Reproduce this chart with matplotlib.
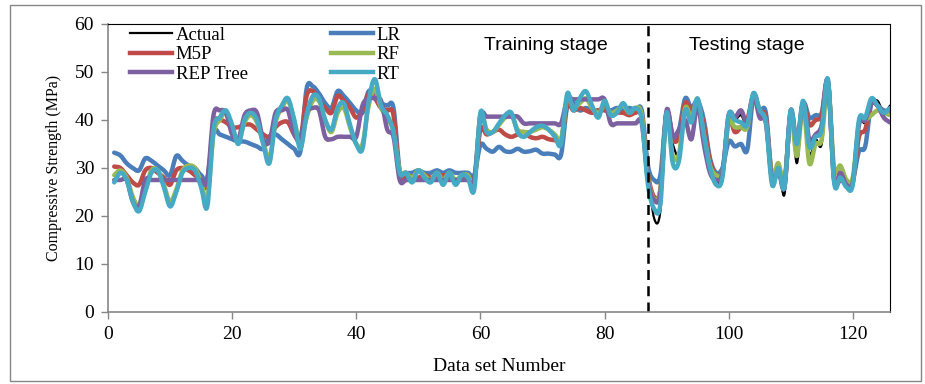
import numpy as np
import matplotlib
matplotlib.use("Agg")
import matplotlib.pyplot as plt
from matplotlib.path import Path
from matplotlib.patches import PathPatch, Rectangle
from matplotlib.lines import Line2D

# values, data set 1..126 (train 1-86, test 87-126)
actual = [27, 29, 27.5, 23.5, 21.5, 25, 29, 29.5, 26, 22, 25, 29, 30, 29.5, 26, 22.5,
          37.5, 40.5, 42, 39, 35, 40, 41.5, 40, 35, 31, 40, 43, 44.5, 40, 34.5, 41, 45, 44.5, 40,
          38, 42.5, 43.5, 39, 35, 34, 43.5, 48, 43, 41, 37,
          29, 29, 27, 29.5, 28, 27, 29, 26.5, 29, 26.5, 28.5, 28, 26,
          41.5, 37.5, 37.5, 39.3, 41, 41.5, 37.5, 36.5, 37.5, 38.5, 38.8, 38, 36.5, 35,
          45.5, 42, 44.5, 46, 43, 40.5, 44, 41, 41.5, 43.5, 41.5, 42.5, 40,
          29, 19.5, 21, 40.5, 35, 33, 43, 41.5, 44.5, 38, 31, 28, 27.5, 40.5, 40, 41, 39, 45.5,
          41.5, 39.5, 27, 30.5, 24.5, 41.5, 31, 43.5, 33, 36, 35, 48, 28, 29, 27, 26.5, 39, 39.5,
          43.5, 44, 41.5, 43]

lr = [33.2, 32.6, 31, 30, 29.5, 32, 31.5, 30.5, 29.5, 28.5, 32.5, 31.5, 30.5, 30, 28.5, 28,
      37.5, 37, 36.5, 36, 35.5, 35.5, 35, 34.5, 34, 36.5, 37, 36, 35, 34, 33.5, 46.5, 47, 45.5,
      43.5, 42.5, 46, 45, 43.5, 42, 41.5, 46, 45, 43.5, 43, 42.5,
      29.5, 29, 29, 29.5, 29, 29, 29.5, 29, 29.5, 29, 29, 29, 28.5,
      34.8, 34, 33.4, 34.4, 33.5, 33.4, 34, 33.4, 33.5, 33.8, 33, 33, 32.8, 32.8,
      43, 43.5, 42, 42.5, 42, 42, 42.5, 42, 42.5, 42, 42.5, 42, 42,
      30.5, 27.5, 28.5, 41.5, 37, 38, 44.5, 42.5, 44, 40, 32, 29, 30, 35.5, 34.5, 35, 33.8, 45,
      42, 41.5, 28, 30, 27, 41.5, 35, 43.5, 40.5, 41, 41.5, 48, 27.5, 28.5, 27, 27.5, 33.5, 34.5,
      43.5, 43, 42, 42]

m5p = [30.3, 30, 28.5, 27, 26.5, 29.5, 30, 29, 28, 26.5, 29.5, 30, 29.5, 28.5, 27.5, 26.5,
       39, 40, 39.5, 38.5, 38.5, 39, 39, 38, 37, 36.5, 38.5, 39.5, 39.5, 37, 36, 45, 46, 44,
       42.5, 41.5, 45, 44, 42.5, 40.5, 42, 45.5, 44.5, 42.5, 42, 41,
       28.5, 28.5, 28, 28, 28.5, 28, 28, 28.5, 28, 27.5, 28, 28, 27.5,
       38, 37, 37.5, 38, 37, 36.5, 37, 37.5, 36.5, 36.2, 36.5, 36, 35.8, 35.8,
       43, 42, 42.5, 42, 41.5, 42, 42, 41.5, 41.5, 41.5, 41, 41.5, 41,
       28.8, 24, 25.5, 41.5, 36, 36.5, 43.5, 42, 43.5, 39, 31.5, 28.5, 29, 40, 37.5, 38.5, 40, 45,
       41.5, 40.5, 27.5, 30, 26.5, 41.5, 35, 43.5, 39, 40, 41, 48, 28, 27.5, 27, 27, 36.5, 38,
       43.5, 43, 41.5, 42]

rf = [28.5, 29.5, 28, 24, 22, 25.5, 29.5, 29.5, 26.5, 23, 25.5, 29.5, 30.5, 30, 27, 23.5,
      37, 40, 41.5, 38.5, 35.5, 39.5, 41, 39.5, 35.5, 32, 39.5, 42.5, 44, 40, 35, 40.5, 44, 44,
      40, 37.5, 41.5, 42.5, 38.5, 35, 35, 43, 46.5, 42.5, 40.5, 37.5,
      29.5, 29, 28, 29.5, 28.5, 27.5, 29, 27.5, 29, 27.5, 28.5, 28.5, 26.5,
      41, 38, 37.5, 39, 40.5, 41, 38, 37.5, 37.5, 38, 38.5, 38, 37, 36,
      44.5, 42.5, 43.5, 44.5, 42.5, 41.5, 43, 41.5, 42, 43, 41.5, 42.5, 41,
      28, 23.5, 25.5, 41, 32.5, 33, 42.5, 40.5, 44, 37, 30.5, 28.5, 29, 39.5, 38.5, 38.5, 38.5,
      45.5, 42, 39.5, 28.5, 31, 27, 41, 32.5, 43, 31, 35, 36, 47.5, 30, 30.5, 27.5, 28, 39.5, 40,
      41, 42, 41.5, 41]

rep_tree = [27.5, 27.5, 27.5, 23, 22, 27.5, 27.5, 27.5, 27.5, 27.5, 27.5, 27.5, 27.5, 27.5, 27.5, 27.5,
            41, 42, 41.5, 37, 36, 41, 42, 41.5, 36, 35.5, 41.5, 42, 42, 37, 36.5, 41.5, 42.5, 42,
            36.5, 36, 36.5, 36.5, 36.5, 36.5, 43, 44.5, 44.5, 44, 38, 36.5,
            27.5, 27.5, 27.5, 27.5, 27.5, 27.5, 27.5, 27.5, 27.5, 27.5, 27.5, 27.5, 27.5,
            40.7, 40.7, 40.7, 40.7, 40.7, 40.7, 40.7, 39.3, 39.3, 39.3, 39.3, 39.3, 39.3, 39.3,
            44.3, 44.3, 44.3, 44.3, 44.3, 44.3, 44.3, 39.3, 39.3, 39.3, 39.3, 39.3, 39.3,
            27.5, 23.3, 25, 42, 36.5, 38, 40, 36, 43, 35, 29, 27.5, 29, 41, 40.5, 42, 39.5, 45,
            40.5, 39.5, 27.5, 29.5, 26, 42, 35.5, 43.5, 36, 37, 39, 48, 27.5, 29, 26.5, 27, 39, 40,
            43.5, 43, 40.5, 39.5]

rt = [27, 29, 27.5, 23, 21, 25, 29, 29.5, 26, 22, 25, 29, 30, 29.5, 26, 22,
      38, 40.5, 42, 39, 35, 40, 41.5, 40, 35, 31, 40, 43, 44.5, 40, 34, 41, 45, 44.5, 40, 38,
      42.5, 43.5, 39, 35, 34, 44, 48.5, 43, 41, 37.5,
      29, 29, 27, 29.5, 28, 27, 29, 26.5, 29, 26.5, 28.5, 28, 25.5,
      41.5, 37.5, 37.5, 39.3, 41, 41.5, 37.5, 36.5, 37.5, 38.5, 38.8, 38, 36.5, 35,
      45.5, 42, 44.5, 46, 43, 40.5, 44, 41, 41.5, 43.5, 41.5, 42.5, 40,
      26.5, 21.5, 22.5, 41.5, 31, 31.5, 42, 39.5, 44.5, 37, 30, 26.5, 28, 41, 40, 39.5, 39,
      45.6, 42, 39.5, 26.5, 30, 26, 42, 35, 44, 34.5, 36.5, 38, 48.5, 27, 28, 26, 26.5, 40, 40.5,
      44.5, 43, 41.5, 42.5]

series_names = ["Actual", "LR", "M5P", "RF", "REP Tree", "RT"]
series_colors = ["#000000", "#4A7EBB", "#BE4B48", "#98B954", "#7D60A0", "#46AAC5"]
series_widths = [1.6, 3.2, 3.2, 3.2, 3.2, 3.2]
split_at = 87  # first testing sample

plt.rcParams["font.family"] = ["Liberation Serif", "DejaVu Serif"]
plt.rcParams["font.size"] = 14


def smooth_path(x, y):
    # excel-style smoothed line: cubic bezier through every point
    pts = np.column_stack([x, y]).astype(float)
    n = len(pts)
    verts = [pts[0]]
    codes = [Path.MOVETO]
    for i in range(n - 1):
        p0 = pts[i - 1] if i > 0 else pts[i]
        p1 = pts[i]
        p2 = pts[i + 1]
        p3 = pts[i + 2] if i + 2 < n else pts[i + 1]
        verts += [p1 + (p2 - p0) / 6.0, p2 - (p3 - p1) / 6.0, p2]
        codes += [Path.CURVE4] * 3
    return Path(verts, codes)


fig = plt.figure(figsize=(9.25, 3.84), dpi=100)
ax = fig.add_axes([108 / 925, 1 - 312 / 384, (890 - 108) / 925, (312 - 24) / 384])

# outer chart border
fig.patches.append(Rectangle((10 / 925, 3 / 384), 911 / 925, 376 / 384, transform=fig.transFigure,
                             fill=False, edgecolor="#868686", lw=1))

all_series = [actual, lr, m5p, rf, rep_tree, rt]
for vals, col, lw in zip(all_series, series_colors, series_widths):
    x = np.arange(1, len(vals) + 1)
    patch = PathPatch(smooth_path(x, vals), facecolor="none", edgecolor=col, lw=lw,
                      capstyle="round", joinstyle="round")
    ax.add_patch(patch)

ax.axvline(split_at, color="black", lw=1.8, ls=(0, (4, 2.5)))

ax.text(70.5, 55.5, "Training stage", family=["Liberation Sans"], fontsize=14,
        ha="center", va="center")
ax.text(103, 55.5, "Testing stage", family=["Liberation Sans"], fontsize=14,
        ha="center", va="center")

ax.set_xlim(0, 126)
ax.set_ylim(0, 60)
ax.set_xticks(np.arange(0, 121, 20))
ax.set_yticks(np.arange(0, 61, 10))
ax.tick_params(direction="out", length=5, color="#868686", width=1, pad=5)

for side in ["left", "bottom"]:
    ax.spines[side].set_color("#868686")
    ax.spines[side].set_linewidth(1.2)
for side in ["top", "right"]:
    ax.spines[side].set_color("black")
    ax.spines[side].set_linewidth(0.8)

ax.set_xlabel("Data set Number", fontsize=14)
ax.set_ylabel("Compressive Strength (MPa)", fontsize=11.5)
ax.xaxis.set_label_coords(0.5, -0.16)
ax.yaxis.set_label_coords(-0.059, 0.5)

# legend is filled column-wise, so reorder to read row-wise like the original
handles = [Line2D([], [], color=c, lw=w) for c, w in zip(series_colors, series_widths)]
order = [0, 2, 4, 1, 3, 5]
ax.legend([handles[i] for i in order], [series_names[i] for i in order], ncol=2,
          loc="upper left", bbox_to_anchor=(0.028, 0.99), frameon=False, fontsize=13.5,
          borderpad=0, borderaxespad=0, handlelength=2.24, handletextpad=0.2,
          columnspacing=4.45, labelspacing=0.12)

fig.savefig("out.png", dpi=100)
